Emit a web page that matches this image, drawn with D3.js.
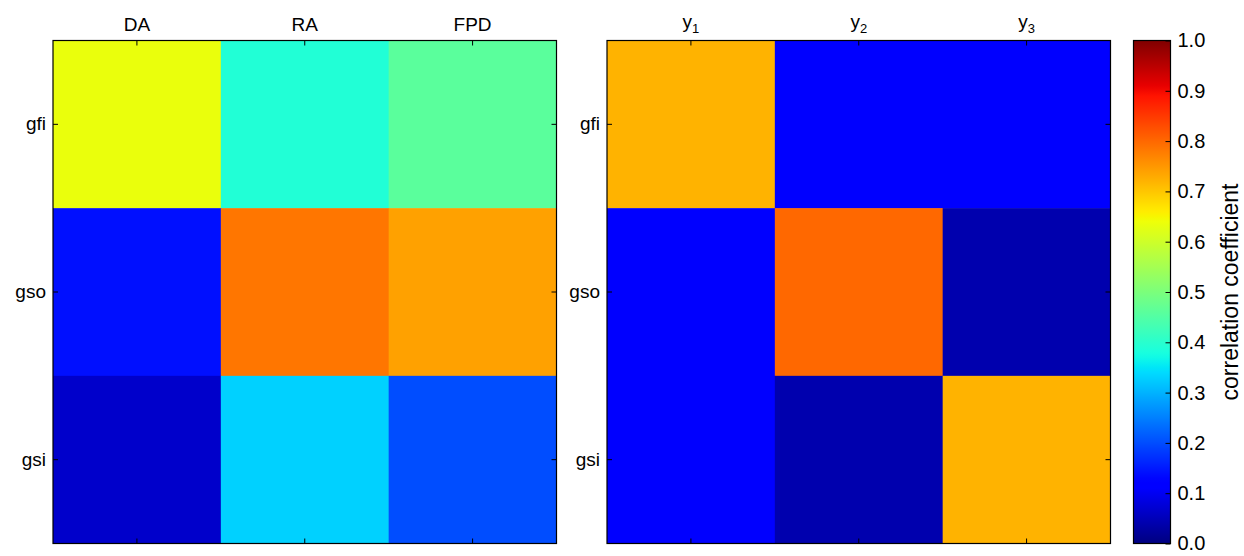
<!DOCTYPE html>
<html>
<head>
<meta charset="utf-8">
<script src="https://cdn.jsdelivr.net/npm/d3@7"></script>
<style>
  body { margin: 0; background: #fff; }
  text { font-family: "Liberation Sans", Arial, sans-serif; fill: #000; }
</style>
</head>
<body>
<script>
const rows = ['gfi', 'gso', 'gsi']
const leftCols = ['DA', 'RA', 'FPD']
const rightCols = [['y', '1'], ['y', '2'], ['y', '3']]
const leftValues = [
    [0.635, 0.39, 0.46],
    [0.14, 0.785, 0.74],
    [0.065, 0.33, 0.20]
]
const rightValues = [
    [0.72, 0.12, 0.12],
    [0.12, 0.80, 0.04],
    [0.115, 0.04, 0.72]
]
const cbTicks = [0, 0.1, 0.2, 0.3, 0.4, 0.5, 0.6, 0.7, 0.8, 0.9, 1.0]

// matplotlib jet, one scale per channel
const jr = d3.scaleLinear().domain([0, 0.35, 0.66, 0.89, 1]).range([0, 0, 1, 1, 0.5]).clamp(true)
const jg = d3.scaleLinear().domain([0, 0.125, 0.375, 0.64, 0.91, 1]).range([0, 0, 1, 1, 0, 0]).clamp(true)
const jb = d3.scaleLinear().domain([0, 0.11, 0.34, 0.65, 1]).range([0.5, 1, 1, 0, 0]).clamp(true)
const jet = v => d3.rgb(jr(v) * 255, jg(v) * 255, jb(v) * 255).formatHex()

const svg = d3.select('body').append('svg')
    .attr('width', 1244)
    .attr('height', 556)

const plotTop = 40.5, plotBottom = 543.5
const fs = 19

function heatmap(x0, x1, cols, values) {
    const g = svg.append('g')
    const keys = cols.map((c, i) => i)
    const x = d3.scaleBand().domain(keys).range([x0, x1])
    const y = d3.scaleBand().domain(rows).range([plotTop, plotBottom])

    values.forEach((row, ri) => {
        g.selectAll(null).data(row).enter()
            .append('rect')
            .attr('x', (d, i) => x(i))
            .attr('y', y(rows[ri]))
            .attr('width', x.bandwidth() + 0.5)
            .attr('height', y.bandwidth() + 0.5)
            .attr('fill', d => jet(d))
    })

    const tl = 5
    keys.forEach(k => {
        const cx = x(k) + x.bandwidth() / 2
        g.append('line').attr('x1', cx).attr('x2', cx).attr('y1', plotTop).attr('y2', plotTop + tl)
            .attr('stroke', '#000')
        g.append('line').attr('x1', cx).attr('x2', cx).attr('y1', plotBottom).attr('y2', plotBottom - tl)
            .attr('stroke', '#000')
        const t = g.append('text')
            .attr('x', cx).attr('y', plotTop - 10)
            .attr('text-anchor', 'middle')
            .attr('font-size', fs)
        const c = cols[k]
        if (Array.isArray(c)) {
            t.attr('y', plotTop - 13)
            t.append('tspan').text(c[0])
            t.append('tspan').text(c[1]).attr('font-size', 13).attr('dy', 5)
        } else {
            t.text(c)
        }
    })
    rows.forEach(r => {
        const cy = y(r) + y.bandwidth() / 2
        g.append('line').attr('x1', x0).attr('x2', x0 + tl).attr('y1', cy).attr('y2', cy)
            .attr('stroke', '#000')
        g.append('line').attr('x1', x1).attr('x2', x1 - tl).attr('y1', cy).attr('y2', cy)
            .attr('stroke', '#000')
        g.append('text')
            .attr('x', x0 - 7).attr('y', cy)
            .attr('dy', '0.32em')
            .attr('text-anchor', 'end')
            .attr('font-size', fs)
            .text(r)
    })
    g.append('rect')
        .attr('x', x0).attr('y', plotTop)
        .attr('width', x1 - x0).attr('height', plotBottom - plotTop)
        .attr('fill', 'none')
        .attr('stroke', '#000')
        .attr('stroke-width', 1.2)
}

heatmap(53, 556.5, leftCols, leftValues)
heatmap(607, 1110.5, rightCols, rightValues)

// colorbar
const cbX = 1133.5, cbW = 37
const cbScale = d3.scaleLinear().domain([0, 1]).range([plotBottom, plotTop])
const grad = svg.append('defs').append('linearGradient')
    .attr('id', 'jet')
    .attr('x1', 0).attr('y1', 1).attr('x2', 0).attr('y2', 0)
grad.selectAll('stop').data(d3.range(0, 1.0001, 0.01)).enter()
    .append('stop')
    .attr('offset', d => d)
    .attr('stop-color', d => jet(d))
svg.append('rect')
    .attr('x', cbX).attr('y', plotTop)
    .attr('width', cbW).attr('height', plotBottom - plotTop)
    .attr('fill', 'url(#jet)')
    .attr('stroke', '#000')
    .attr('stroke-width', 1.2)

const cbAxis = d3.axisRight(cbScale)
    .tickValues(cbTicks)
    .tickFormat(d3.format('.1f'))
    .tickSizeInner(-5)
    .tickSizeOuter(0)
    .tickPadding(7)
const ag = svg.append('g')
    .attr('transform', `translate(${cbX + cbW},0)`)
    .call(cbAxis)
ag.select('.domain').remove()
ag.selectAll('text')
    .attr('font-size', 20)
    .style('font-family', '"Liberation Sans", Arial, sans-serif')

svg.append('text')
    .attr('transform', `translate(1230,${(plotTop + plotBottom) / 2}) rotate(-90)`)
    .attr('text-anchor', 'middle')
    .attr('dy', '0.35em')
    .attr('font-size', 23)
    .text('correlation coefficient')
</script>
</body>
</html>
